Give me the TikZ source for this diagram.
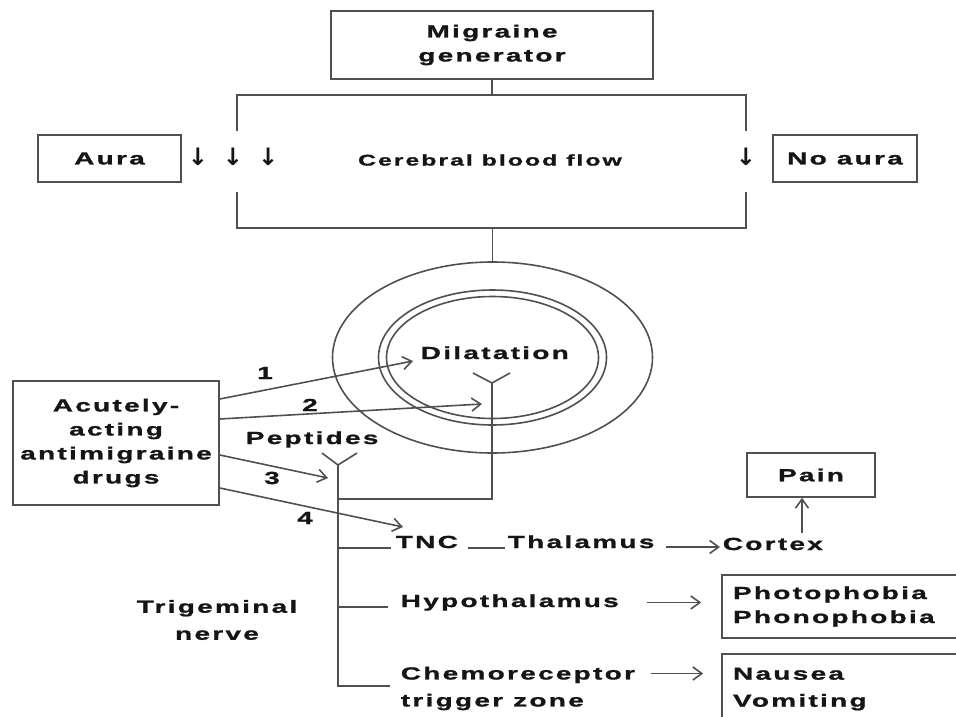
\documentclass[tikz,border=0pt]{standalone}
\usepackage{fontspec}
\setmainfont{Liberation Sans}[FakeStretch=1.6,LetterSpace=13,FakeBold=1.2]
\newfontfamily\arrowfont{DejaVu Sans}
\usetikzlibrary{arrows.meta, positioning}
\definecolor{inkgray}{HTML}{505050}
\definecolor{textblack}{HTML}{151515}
\tikzset{
  every node/.style={font=\fontsize{17.5}{24}\selectfont\bfseries, text=textblack},
  box/.style={draw=inkgray, line width=1.6pt, inner sep=0pt, align=center},
  txt/.style={inner sep=0pt},
  arr/.style={-{Straight Barb[length=9pt,width=13pt]}},
}

\begin{document}
\begin{tikzpicture}[x=1pt, y=-1pt, color=inkgray, line width=1.6pt]
  \clip (0,0) rectangle (956,717);
  % migraine generator and blood flow
  \node[box, minimum width=322pt, minimum height=68pt] (migraine) at (492,45) {Migraine\\generator};
  \node[box, minimum width=143pt, minimum height=47pt] (aura) at (109.5,158.5) {Aura};
  \node[box, minimum width=144pt, minimum height=47pt] (noaura) at (845,158.5) {No aura};
  \node[txt, font=\fontsize{15.5}{20}\selectfont\bfseries] (cbf) at (490,160) {Cerebral blood flow};
  \node[txt] (down3) at (233,157) {\arrowfont\fontsize{24}{24}\selectfont ↓\hspace{15pt}↓\hspace{15pt}↓};
  \node[txt] (down1) at (746,157) {\arrowfont\fontsize{24}{24}\selectfont ↓};
  \coordinate (topL) at (237,95);
  \coordinate (topR) at (746,95);
  \coordinate (botL) at (237,228);
  \coordinate (botR) at (746,228);
  \draw (migraine) -- (migraine |- topL);
  \draw (topL) ++(0,36) -- (topL) -- (topR) -- ++(0,36);
  \draw (botL) ++(0,-36) -- (botL) -- (botR) -- ++(0,-36);

  % vessel
  \coordinate (vessel) at (492.5,357.5);
  \draw (botL -| vessel) -- ++(0,34);
  \draw (vessel) ellipse [x radius=160pt, y radius=95.5pt];
  \draw (vessel) ellipse [x radius=114pt, y radius=67.5pt];
  \draw (vessel) ellipse [x radius=106pt, y radius=61pt];
  \node[txt, anchor=base west] (dil) at (420,359) {Dilatation};
  \coordinate (rec) at (492,383);
  \draw (rec) ++(-19,-10) -- (rec) -- ++(18,-10);
  \node[txt, anchor=base west] (pep) at (245,444) {Peptides};
  \coordinate (prec) at (338,465);
  \coordinate (joint) at (338,499);
  \draw (prec) ++(-16,-12) -- (prec) -- ++(19,-12);
  \draw (rec) -- (rec |- joint) -- (joint);
  \draw (prec) -- (prec |- 0,686) -- (390,686);

  % drugs
  \node[box, minimum width=206pt, minimum height=124pt] (drugs) at (116,443) {Acutely-\\acting\\antimigraine\\drugs};
  \coordinate (t1) at (413,361);
  \coordinate (t2) at (482,404);
  \coordinate (t3) at (328,478);
  \coordinate (t4) at (403,527);
  \draw[arr] ([yshift=44pt]drugs.east) -- (t1);
  \draw[arr] ([yshift=24pt]drugs.east) -- (t2);
  \draw[arr] ([yshift=-12pt]drugs.east) -- (t3);
  \draw[arr] ([yshift=-45pt]drugs.east) -- (t4);
  \node[txt] (n1) at (265,373) {1};
  \node[txt] (n2) at (310,405) {2};
  \node[txt] (n3) at (272,478) {3};
  \node[txt] (n4) at (305,518) {4};

  % trigeminal pathways
  \node[txt, align=center] (trig) at (217,620) {Trigeminal\\[3pt]nerve};
  \node[txt, anchor=base west] (tnc) at (395,548) {TNC};
  \node[txt, anchor=base west] (thal) at (507,548) {Thalamus};
  \node[txt, anchor=base west] (cortex) at (722,550) {Cortex};
  \node[box, minimum width=128pt, minimum height=44pt] (pain) at (811,475) {Pain};
  \node[txt, anchor=base west] (hypo) at (400,607) {Hypothalamus};
  \node[txt, anchor=west, align=left] (chemo) at (400,688.5) {Chemoreceptor\\[3pt]trigger zone};
  \node[box, text width=231pt, align=left, inner xsep=11pt, minimum height=63pt] (photo) at (848.5,606.5) {Photophobia\\Phonophobia};
  \node[box, text width=231pt, align=left, inner xsep=11pt, minimum height=70pt] (nausea) at (848.5,689) {Nausea\\[3pt]Vomiting};

  \coordinate (cup) at (802,533);
  \draw (prec |- tnc.base) -- ([xshift=-4pt]tnc.base west);
  \draw[shorten <=9pt, shorten >=2pt] (tnc.base east) -- (thal.base west);
  \draw[arr, shorten <=11pt, shorten >=2pt] ([yshift=1pt]thal.base east) -- ([yshift=1pt]thal.base east -| cortex.west);
  \draw[arr] (cup) -- (cup |- pain.south);
  \draw (prec |- hypo.base) -- ([xshift=-12pt]hypo.base west);
  \draw[arr, shorten <=27pt, shorten >=20pt] (hypo.east) -- (hypo.east -| photo.west);
  \draw[arr, shorten <=15pt, shorten >=18pt] ([yshift=15pt]chemo.east) -- ([yshift=15pt]chemo.east -| nausea.west);
\end{tikzpicture}
\end{document}
